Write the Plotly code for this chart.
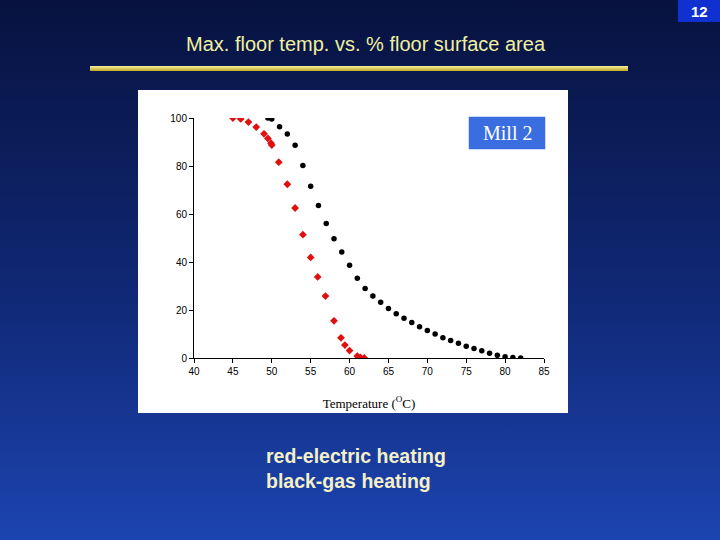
import plotly.graph_objects as go
import base64

red_x = [45, 46, 47, 48, 49, 49.5, 49.9, 50, 50.9, 52, 53, 54, 55, 55.9, 56.9, 58, 58.9, 59.4, 60, 61, 61.4, 61.9]
red_y = [100, 99.6, 98.3, 96.2, 93.4, 91.5, 89.5, 88.7, 81.6, 72.4, 62.5, 51.4, 41.9, 33.8, 25.8, 15.5, 8.4, 5.4, 3.1, 0.8, 0.2, 0]
black_x = [49.5, 50, 51, 52, 53, 54, 55, 56, 57, 58, 59, 60, 61, 62, 63, 64, 65, 66, 67, 68, 69, 70,
           71, 72, 73, 74, 75, 76, 77, 78, 79, 80, 81, 82]
black_y = [100, 99.6, 96.4, 93.3, 88.6, 80.2, 71.6, 63.5, 56.0, 49.7, 44.2, 38.6, 33.2, 29.0, 25.8, 23.2,
           20.6, 18.4, 16.6, 14.8, 13.0, 11.5, 10.0, 8.4, 7.3, 6.1, 4.9, 4.0, 3.0, 2.0, 1.1, 0.5, 0.2, 0]
x_ticks = [40, 45, 50, 55, 60, 65, 70, 75, 80, 85]
y_ticks = [0, 20, 40, 60, 80, 100]

W, H = 720, 540
L, R, T, B = 194, 544, 118, 358
def px(x): return (x - L) / (R - L)
def py(y): return (B - y) / (B - T)

svg = ('<svg xmlns="http://www.w3.org/2000/svg" width="720" height="540">'
       '<defs><linearGradient id="g" x1="0" y1="0" x2="0" y2="1">'
       '<stop offset="0" stop-color="#07123f"/><stop offset="0.5" stop-color="#0f2670"/>'
       '<stop offset="1" stop-color="#1c44b0"/></linearGradient>'
       '<linearGradient id="s" x1="0" y1="0" x2="0" y2="1">'
       '<stop offset="0" stop-color="#f8f0a0"/><stop offset="1" stop-color="#c0a820"/></linearGradient></defs>'
       '<rect width="720" height="540" fill="url(#g)"/>'
       '<rect x="90" y="66" width="538" height="5" fill="url(#s)"/></svg>')
uri = "data:image/svg+xml;base64," + base64.b64encode(svg.encode()).decode()

def ann(text, x, y, size, color, family="Arial", xa="center", ya="middle", align="center"):
    return dict(text=text, xref="paper", yref="paper", x=px(x), y=py(y), showarrow=False,
                xanchor=xa, yanchor=ya, align=align,
                font=dict(family=family, size=size, color=color))

fig = go.Figure()
fig.add_trace(go.Scatter(x=red_x, y=red_y, mode="markers",
                         marker=dict(symbol="diamond", size=6, color="#e01010")))
fig.add_trace(go.Scatter(x=black_x, y=black_y, mode="markers",
                         marker=dict(symbol="circle", size=5.5, color="black")))

fig.update_layout(
    width=W, height=H, showlegend=False,
    margin=dict(l=L, r=W - R, t=T, b=H - B),
    paper_bgcolor="#0f2670", plot_bgcolor="white",
    images=[dict(source=uri, xref="paper", yref="paper", x=px(0), y=py(0),
                 sizex=W / (R - L), sizey=H / (B - T), xanchor="left", yanchor="top",
                 sizing="stretch", layer="below")],
    shapes=[
        dict(type="rect", xref="paper", yref="paper", x0=px(138), x1=px(568), y0=py(413), y1=py(90),
             fillcolor="white", line=dict(width=0), layer="below"),
        dict(type="rect", xref="paper", yref="paper", x0=px(678), x1=px(720), y0=py(22), y1=py(0),
             fillcolor="#1030d0", line=dict(width=0)),
        dict(type="rect", xref="paper", yref="paper", x0=px(468), x1=px(546), y0=py(150), y1=py(116),
             fillcolor="#3a6ee0", line=dict(color="white", width=1.5)),
    ],
    xaxis=dict(range=[40, 85], tickvals=x_ticks, showgrid=False, zeroline=False,
               showline=True, linecolor="black", ticks="outside", ticklen=4, tickcolor="black",
               tickfont=dict(family="Arial", size=10, color="black"),
               title=dict(text="Temperature (<sup>O</sup>C)", standoff=22,
                          font=dict(family="Liberation Serif", size=13, color="black"))),
    yaxis=dict(range=[0, 100], tickvals=y_ticks, showgrid=False, zeroline=False,
               showline=True, linecolor="black", ticks="outside", ticklen=4, tickcolor="black",
               tickfont=dict(family="Arial", size=10, color="black")),
    annotations=[
        ann("Max. floor temp. vs. % floor surface area", 366, 44, 20, "#f0f0a0"),
        ann("<b>12</b>", 699, 11, 15, "white"),
        ann("Mill 2", 507, 133, 20, "white", family="Liberation Serif"),
        ann("<b>red-electric heating<br>black-gas heating</b>", 264, 443, 19.5, "#f4f0c8",
            xa="left", ya="top", align="left"),
    ],
)
fig.write_html("out.html", config={"displayModeBar": False},
               post_script="document.body.style.margin='0';")
